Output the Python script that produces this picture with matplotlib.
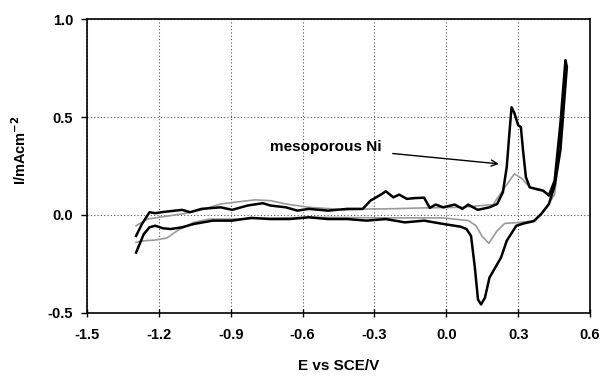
import matplotlib
matplotlib.use("Agg")
import matplotlib.pyplot as plt

plt.rcParams['font.family'] = ['Liberation Sans', 'DejaVu Sans']

# Mesoporous Ni (black) CV loop
meso_E = [-1.295, -1.271, -1.239, -1.215, -1.183, -1.103, -1.070, -1.022, -0.942, -0.894,
          -0.830, -0.766, -0.734, -0.670, -0.622, -0.574, -0.494, -0.413, -0.349, -0.317,
          -0.269, -0.253, -0.221, -0.197, -0.165, -0.133, -0.093, -0.069, -0.045, -0.013,
          0.035, 0.067, 0.091, 0.131, 0.180, 0.212, 0.236, 0.252, 0.263, 0.272,
          0.284, 0.300, 0.311, 0.320, 0.332, 0.348, 0.372, 0.404, 0.428, 0.452,
          0.476, 0.497,
          0.503, 0.476, 0.452, 0.428, 0.396, 0.364, 0.324, 0.292, 0.252, 0.228,
          0.204, 0.180, 0.161, 0.145, 0.132, 0.119, 0.103, 0.084, 0.060, -0.013,
          -0.093, -0.173, -0.253, -0.333, -0.413, -0.494, -0.574, -0.654, -0.734, -0.814,
          -0.894, -0.974, -1.054, -1.103, -1.151, -1.183, -1.215, -1.239, -1.263, -1.295]
meso_I = [-0.107, -0.047, 0.014, 0.009, 0.015, 0.026, 0.014, 0.031, 0.039, 0.026,
          0.048, 0.060, 0.048, 0.039, 0.022, 0.031, 0.022, 0.031, 0.031, 0.073,
          0.107, 0.121, 0.090, 0.104, 0.082, 0.086, 0.088, 0.036, 0.053, 0.039,
          0.053, 0.031, 0.053, 0.026, 0.039, 0.056, 0.116, 0.244, 0.415, 0.550,
          0.520, 0.458, 0.449, 0.330, 0.193, 0.141, 0.133, 0.124, 0.099, 0.176,
          0.467, 0.791,
          0.757, 0.330, 0.150, 0.056, 0.005, -0.032, -0.043, -0.055, -0.132, -0.218,
          -0.269, -0.320, -0.423, -0.457, -0.432, -0.269, -0.107, -0.072, -0.060, -0.046,
          -0.029, -0.038, -0.021, -0.029, -0.021, -0.021, -0.012, -0.021, -0.021, -0.015,
          -0.029, -0.029, -0.046, -0.063, -0.072, -0.068, -0.055, -0.063, -0.098, -0.192]

# Second electrode (grey) CV loop
flat_E = [-1.295, -1.247, -1.183, -1.103, -1.022, -0.942, -0.862, -0.798, -0.734, -0.670,
          -0.574, -0.413, -0.317, -0.253, -0.093, 0.067, 0.195, 0.244, 0.284, 0.316,
          0.348, 0.388, 0.428, 0.452, 0.476, 0.497,
          0.484, 0.452, 0.420, 0.372, 0.308, 0.244, 0.212, 0.177, 0.148, 0.124,
          0.092, -0.013, -0.253, -0.574, -0.894, -0.990, -1.054, -1.119, -1.167, -1.215,
          -1.263, -1.295]
flat_I = [-0.055, -0.021, -0.009, 0.005, 0.026, 0.056, 0.068, 0.077, 0.073, 0.056,
          0.039, 0.026, 0.031, 0.031, 0.036, 0.039, 0.053, 0.141, 0.210, 0.185,
          0.141, 0.133, 0.107, 0.168, 0.450, 0.757,
          0.450, 0.107, 0.039, -0.029, -0.038, -0.043, -0.081, -0.145, -0.107, -0.055,
          -0.029, -0.015, -0.015, -0.012, -0.021, -0.021, -0.038, -0.077, -0.118, -0.128,
          -0.132, -0.140]

x_ticks = [-1.5, -1.2, -0.9, -0.6, -0.3, 0.0, 0.3, 0.6]
y_ticks = [-0.5, 0.0, 0.5, 1.0]

fig = plt.figure(figsize=(6.04, 3.76), dpi=100)
ax = fig.add_axes([0.144, 0.168, 0.833, 0.781])

ax.plot(flat_E, flat_I, color='#9a9a9a', lw=1.2, zorder=3)
ax.plot(meso_E, meso_I, color='black', lw=1.8, zorder=4)

ax.set_xlim(-1.5, 0.6)
ax.set_ylim(-0.5, 1.0)
ax.set_xticks(x_ticks)
ax.set_yticks(y_ticks)
ax.set_xticklabels([f"{v:.1f}" for v in x_ticks], fontsize=10.5, fontweight='bold')
ax.set_yticklabels([f"{v:.1f}" for v in y_ticks], fontsize=10.5, fontweight='bold')
ax.grid(True, linestyle=(0, (1, 2)), color='#555555', lw=0.8)
ax.tick_params(axis='x', direction='inout', length=6, width=1, pad=8)
ax.tick_params(axis='y', direction='out', length=4, width=1, pad=6)
for s in ax.spines.values():
    s.set_linewidth(1.2)

ax.set_xlabel('E vs SCE/V', fontsize=11, fontweight='bold', labelpad=12)
ax.set_ylabel('I/mAcm$^{\\mathbf{-2}}$', fontsize=10.5, fontweight='bold')
ax.yaxis.set_label_coords(-0.115, 0.554)

ax.annotate('mesoporous Ni', xy=(0.219, 0.261), xytext=(-0.27, 0.347),
            fontsize=11, fontweight='bold', ha='right', va='center',
            arrowprops=dict(arrowstyle='->', color='black', lw=1,
                            shrinkA=6, shrinkB=0))

fig.savefig('out.png', dpi=100)
